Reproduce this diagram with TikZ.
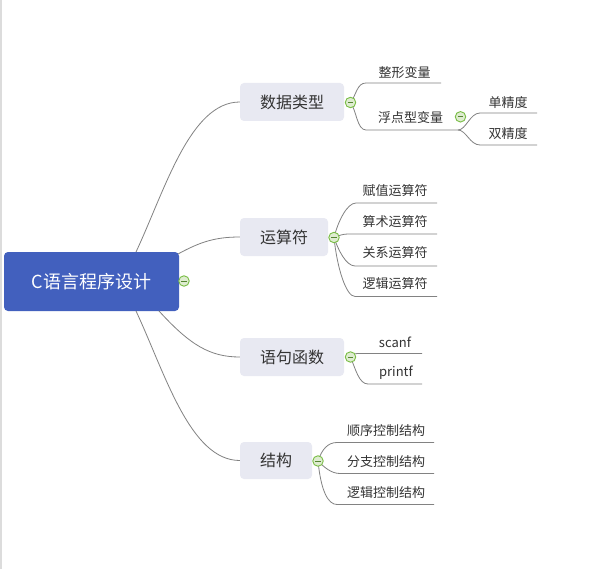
\documentclass[tikz,border=0pt]{standalone}
\usepackage{fontspec}
\setmainfont{Noto Sans CJK SC}
\definecolor{rootblue}{RGB}{66,96,190}
\definecolor{branchfill}{RGB}{232,233,242}
\definecolor{linegray}{RGB}{130,130,130}
\definecolor{txt}{RGB}{51,51,51}
\definecolor{cgreen}{RGB}{122,190,70}
\definecolor{cfill}{RGB}{222,236,208}
\definecolor{barcol}{RGB}{220,220,220}
\tikzset{
  conn/.style={draw=linegray, line width=0.8pt},
  rootbox/.style={fill=rootblue, rounded corners=4pt, text=white, font=\fontsize{18pt}{20pt}\selectfont, inner sep=0pt},
  branchbox/.style={fill=branchfill, rounded corners=4pt, text=txt, font=\fontsize{16pt}{18pt}\selectfont, inner sep=0pt},
  leaf/.style={text=txt, font=\fontsize{13pt}{15pt}\selectfont, inner sep=0pt},
  toggle/.style={circle, draw=cgreen, line width=0.9pt, fill=cfill, minimum size=10.5pt, inner sep=0pt,
    path picture={\draw[cgreen!70!black, line width=0.9pt] ([xshift=-2.8pt]path picture bounding box.center) -- ([xshift=2.8pt]path picture bounding box.center);}}
}
\begin{document}
\begin{tikzpicture}[x=1pt,y=-1pt]
\useasboundingbox (0,0) rectangle (604,569);
\fill[white] (0,0) rectangle (604,569);
\fill[barcol] (0,0) rectangle (2,569);

% root
\node[rootbox, minimum width=175pt, minimum height=59pt] (root) at (91.5,281.5) {C语言程序设计};

% branches
\node[branchbox, minimum width=104pt, minimum height=38pt] (b1) at (292,102) {数据类型};
\node[branchbox, minimum width=88pt, minimum height=38pt] (b2) at (284,237) {运算符};
\node[branchbox, minimum width=104pt, minimum height=38pt] (b3) at (292,357) {语句函数};
\node[branchbox, minimum width=72pt, minimum height=37pt] (b4) at (276,460.5) {结构};

% root connectors
\coordinate (r1) at (136,252);
\coordinate (r2) at (178,254);
\coordinate (r3) at (159,311);
\coordinate (r4) at (136,311);
\begin{scope}[on background layer/.style={}]
\draw[conn] (r1) .. controls (165,190) and (190,102) .. (b1.west);
\draw[conn] (r2) .. controls (200,242) and (215,237) .. (b2.west);
\draw[conn] (r3) .. controls (190,345) and (210,357) .. (b3.west);
\draw[conn] (r4) .. controls (165,373) and (190,460.5) .. (b4.west);
\end{scope}

% toggle coordinates
\coordinate (t0) at (184,281);
\coordinate (t1) at (350.5,102.5);
\coordinate (t2) at (334,237.5);
\coordinate (t3) at (350.5,357);
\coordinate (t4) at (318,461);
\coordinate (t5) at (460.5,116.8);

% ---- 数据类型 leaves
\node[leaf] (l11) at (404.5,73) {整形变量};
\node[leaf] (l12) at (410.5,118) {浮点型变量};
\coordinate (u11s) at (366,83);  \coordinate (u11e) at (441,83);
\coordinate (u12s) at (366,130); \coordinate (u12e) at (458,130);
\draw[conn] (t1) .. controls +(6,-8) and +(-9,0) .. (u11s) -- (u11e);
\draw[conn] (t1) .. controls +(6,8) and +(-9,0) .. (u12s) -- (u12e);

\node[leaf] (l121) at (508,103) {单精度};
\node[leaf] (l122) at (508,134) {双精度};
\coordinate (u121s) at (480,113); \coordinate (u121e) at (537,113);
\coordinate (u122s) at (480,145); \coordinate (u122e) at (537,145);
\draw[conn] (u12e) .. controls +(8,0) and +(-10,0) .. (u121s) -- (u121e);
\draw[conn] (u12e) .. controls +(8,0) and +(-10,0) .. (u122s) -- (u122e);

% ---- 运算符 leaves
\node[leaf] (l21) at (395,191) {赋值运算符};
\node[leaf] (l22) at (395,222) {算术运算符};
\node[leaf] (l23) at (395,253) {关系运算符};
\node[leaf] (l24) at (395,283.5) {逻辑运算符};
\coordinate (u21s) at (356,203); \coordinate (u21e) at (437,203);
\coordinate (u22s) at (348,234); \coordinate (u22e) at (437,234);
\coordinate (u23s) at (355,266); \coordinate (u23e) at (437,266);
\coordinate (u24s) at (355,296.5); \coordinate (u24e) at (437,296.5);
\draw[conn] (t2) .. controls +(4,-16) and +(-9,0) .. (u21s) -- (u21e);
\draw[conn] (t2) .. controls +(5,-2) and +(-5,0) .. (u22s) -- (u22e);
\draw[conn] (t2) .. controls +(4,12) and +(-9,0) .. (u23s) -- (u23e);
\draw[conn] (t2) .. controls +(3,30) and +(-9,0) .. (u24s) -- (u24e);

% ---- 语句函数 leaves
\node[leaf] (l31) at (395,342) {scanf};
\node[leaf] (l32) at (396,373) {printf};
\coordinate (u31s) at (358,353.5); \coordinate (u31e) at (422,353.5);
\coordinate (u32s) at (368,384); \coordinate (u32e) at (422,384);
\draw[conn] (t3) .. controls +(3,-2) and +(-5,0) .. (u31s) -- (u31e);
\draw[conn] (t3) .. controls +(5,12) and +(-9,0) .. (u32s) -- (u32e);

% ---- 结构 leaves
\node[leaf] (l41) at (386,430.5) {顺序控制结构};
\node[leaf] (l42) at (386,461.5) {分支控制结构};
\node[leaf] (l43) at (386,492.5) {逻辑控制结构};
\coordinate (u41s) at (337,442.5); \coordinate (u41e) at (434,442.5);
\coordinate (u42s) at (340,473.5); \coordinate (u42e) at (434,473.5);
\coordinate (u43s) at (337,504.5); \coordinate (u43e) at (434,504.5);
\draw[conn] (t4) .. controls +(4,-12) and +(-9,0) .. (u41s) -- (u41e);
\draw[conn] (t4) .. controls +(6,6) and +(-9,0) .. (u42s) -- (u42e);
\draw[conn] (t4) .. controls +(3,30) and +(-9,0) .. (u43s) -- (u43e);

% toggles on top
\node[toggle] (c0) at (t0) {};
\node[toggle] (c1) at (t1) {};
\node[toggle] (c2) at (t2) {};
\node[toggle] (c3) at (t3) {};
\node[toggle] (c4) at (t4) {};
\node[toggle] (c5) at (t5) {};
\end{tikzpicture}
\end{document}
